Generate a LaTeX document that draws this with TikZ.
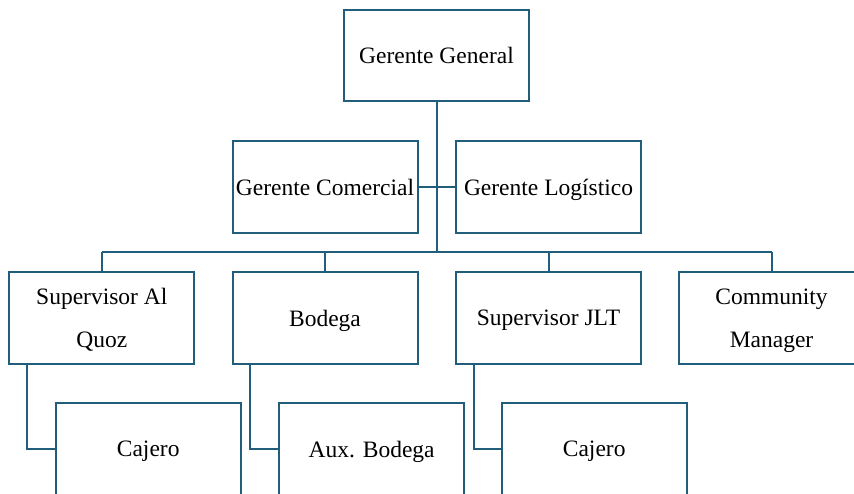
\documentclass[tikz,border=0pt]{standalone}
\usepackage{fontspec}
\setmainfont{Liberation Serif}
\usetikzlibrary{calc}
\definecolor{orgline}{HTML}{215E7C}
\begin{document}
\begin{tikzpicture}[x=1pt,y=-1pt,
  box/.style={draw=orgline,line width=2pt,fill=white,minimum width=185pt,minimum height=92pt,
    inner sep=0pt,text depth=0pt,align=center,font=\fontsize{23.5}{43}\selectfont},
  link/.style={draw=orgline,line width=2pt}]
\clip (0,0) rectangle (854,493);
\fill[white] (0,0) rectangle (854,493);
% nodes
\node[box,minimum height=91pt] (gg) at (436.5,55.5) {Gerente General};
\node[box] (gc) at (325,187) {Gerente Comercial};
\node[box] (gl) at (548.5,187) {Gerente Logístico};
\node[box] (s1) at (101.8,318) {Supervisor Al\\Quoz};
\node[box] (bo) at (325,318) {Bodega};
\node[box] (s2) at (548.5,318) {Supervisor JLT};
\node[box] (cm) at (771.5,318) {Community\\Manager};
\node[box] (c1) at (148.2,449) {Cajero};
\node[box] (ab) at (371.7,449) {Aux. Bodega};
\node[box] (c2) at (594.2,449) {Cajero};
% connectors
\coordinate (bar) at (437,252);
\coordinate (barL) at (101.8,252);
\coordinate (barR) at (771.5,252);
\path[link] (gg.south -| bar) -- (bar);
\path[link] (gc.east) -- (gl.west);
\path[link] (barL) -- (barR);
\path[link] (barL) -- (s1.north);
\path[link] (bo.north |- bar) -- (bo.north);
\path[link] (s2.north |- bar) -- (s2.north);
\path[link] (barR) -- (cm.north);
\path[link] ($(s1.south west)+(18.5,0)$) |- (c1.west);
\path[link] ($(bo.south west)+(18.5,0)$) |- (ab.west);
\path[link] ($(s2.south west)+(18.5,0)$) |- (c2.west);
\end{tikzpicture}
\end{document}
